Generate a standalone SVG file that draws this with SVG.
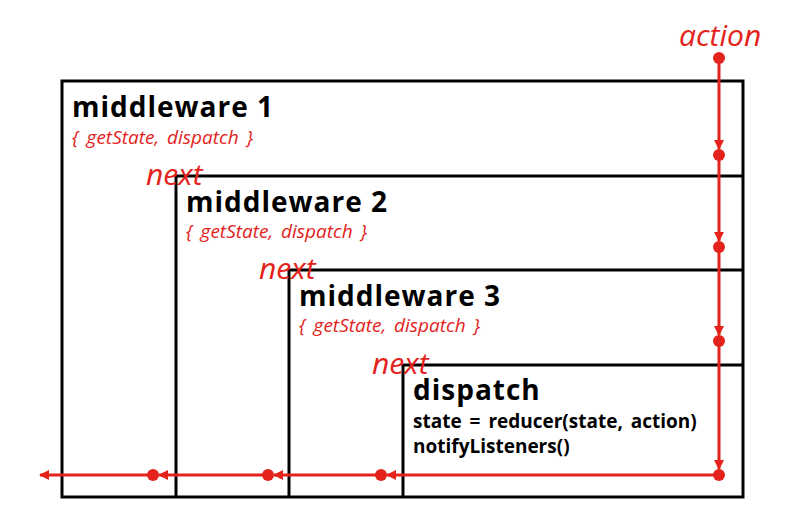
<svg xmlns="http://www.w3.org/2000/svg" width="807" height="532" viewBox="0 0 807 532">
<style>
.box{fill:none;stroke:#000;stroke-width:3}
.title{font-family:"Open Sans","Noto Sans",sans-serif;font-weight:bold;font-size:28px;letter-spacing:1px;fill:#000}
.args{font-family:"Open Sans","Noto Sans",sans-serif;font-style:italic;font-size:19px;word-spacing:3px;fill:#e3231c}
.next{font-family:"Open Sans","Noto Sans",sans-serif;font-style:italic;font-size:30px;fill:#e3231c}
.code{font-family:"Open Sans","Noto Sans",sans-serif;font-weight:bold;font-size:19px;word-spacing:3px;fill:#000}
.flow{fill:none;stroke:#e3231c;stroke-width:3}
.dot{fill:#e3231c}
</style>
<defs>
<marker id="arr" markerWidth="10" markerHeight="10" refX="9" refY="5" orient="auto" markerUnits="userSpaceOnUse">
<path d="M0,0 L10,5 L0,10 Z" fill="#e3231c"/>
</marker>
</defs>
<g id="middleware1">
<rect class="box" x="62" y="81" width="681" height="416"/>
<text class="title" x="72" y="117">middleware 1</text>
<text class="args" x="72" y="144">{ getState, dispatch }</text>
</g>
<g id="middleware2">
<path class="box" d="M743,176 H176 V497"/>
<text class="next" x="146" y="185">next</text>
<text class="title" x="186" y="212">middleware 2</text>
<text class="args" x="186" y="238">{ getState, dispatch }</text>
</g>
<g id="middleware3">
<path class="box" d="M743,270 H289 V497"/>
<text class="next" x="259" y="279">next</text>
<text class="title" x="299" y="306">middleware 3</text>
<text class="args" x="299" y="332">{ getState, dispatch }</text>
</g>
<g id="dispatch">
<path class="box" d="M743,365 H403 V497"/>
<text class="next" x="372" y="374">next</text>
<text class="title" x="413" y="400">dispatch</text>
<text class="code" x="413" y="428">state = reducer(state, action)</text>
<text class="code" x="413" y="453">notifyListeners()</text>
</g>
<g id="action">
<text class="next" x="679" y="46" font-size="31">action</text>
</g>
<g id="connectors">
<path class="flow" d="M719,58 V149" marker-end="url(#arr)"/>
<path class="flow" d="M719,155 V241" marker-end="url(#arr)"/>
<path class="flow" d="M719,247 V335" marker-end="url(#arr)"/>
<path class="flow" d="M719,341 V469" marker-end="url(#arr)"/>
<path class="flow" d="M719,475 H387" marker-end="url(#arr)"/>
<path class="flow" d="M381,475 H274" marker-end="url(#arr)"/>
<path class="flow" d="M268,475 H159" marker-end="url(#arr)"/>
<path class="flow" d="M153,475 H40" marker-end="url(#arr)"/>
<circle class="dot" cx="719" cy="58" r="6"/>
<circle class="dot" cx="719" cy="155" r="6"/>
<circle class="dot" cx="719" cy="247" r="6"/>
<circle class="dot" cx="719" cy="341" r="6"/>
<circle class="dot" cx="719" cy="475" r="6"/>
<circle class="dot" cx="381" cy="475" r="6"/>
<circle class="dot" cx="268" cy="475" r="6"/>
<circle class="dot" cx="153" cy="475" r="6"/>
</g>
</svg>
